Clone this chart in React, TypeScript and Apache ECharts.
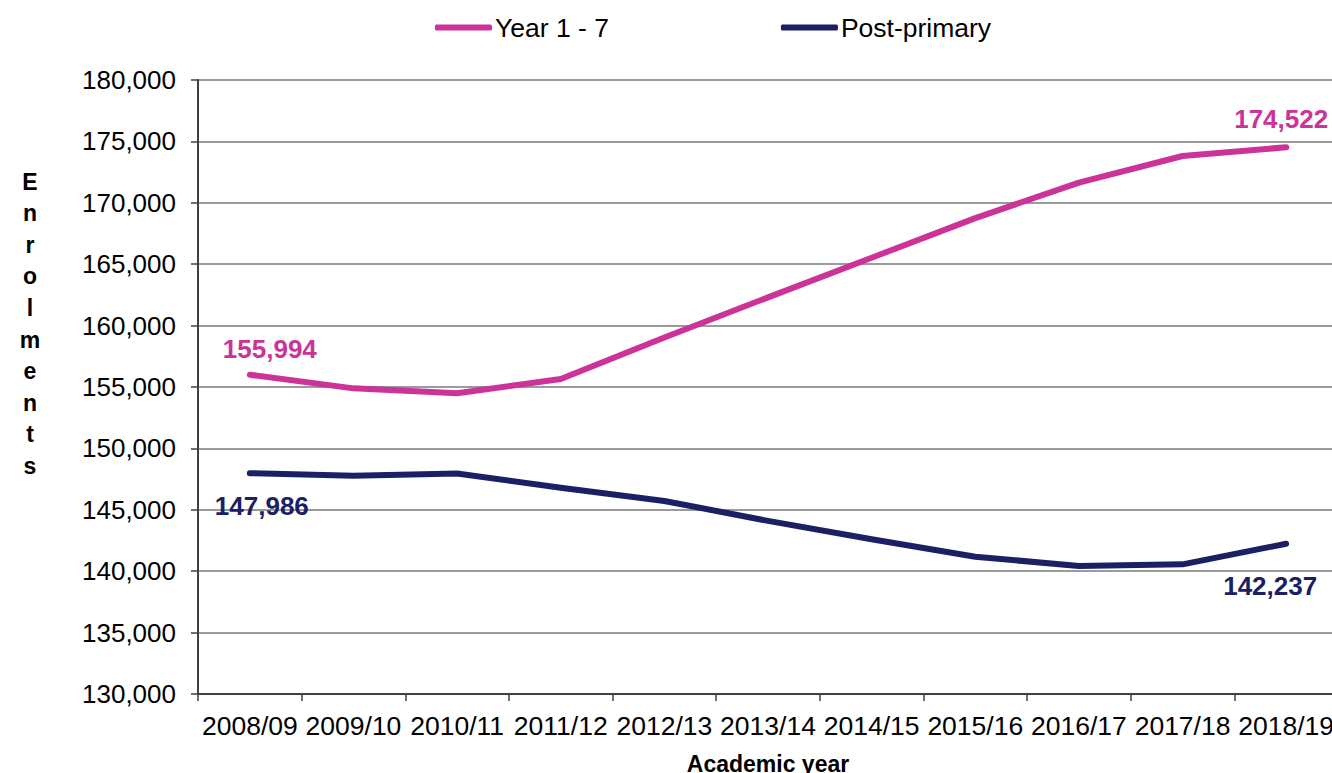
import React, { useEffect, useRef } from "react";
import * as echarts from "echarts";

const categories = [
  "2008/09", "2009/10", "2010/11", "2011/12", "2012/13", "2013/14",
  "2014/15", "2015/16", "2016/17", "2017/18", "2018/19",
];
const year1to7 = [155994, 154890, 154490, 155650, 159030, 162300, 165530, 168750, 171640, 173810, 174522];
const postPrimary = [147986, 147780, 147950, 146800, 145720, 144100, 142600, 141180, 140420, 140560, 142237];
const seriesNames = ["Year 1 - 7", "Post-primary"];
const yTicks = { min: 130000, max: 180000, interval: 5000 };

const PINK = "#CC3399";
const NAVY = "#1A2063";
const FONT = "'Liberation Sans', Arial, sans-serif";

function fmt(v: number) {
  return v.toLocaleString("en-US");
}

function buildData(values: number[], first: any, last: any, color: string) {
  return values.map((v, i) => {
    if (i === 0 || i === values.length - 1) {
      const cfg = i === 0 ? first : last;
      return {
        value: v,
        label: {
          show: true,
          position: cfg.position,
          offset: cfg.offset,
          formatter: (p: any) => fmt(p.value),
          color,
          fontFamily: FONT,
          fontWeight: "bold",
          fontSize: 26,
        },
      };
    }
    return v;
  });
}

export default function App() {
  const ref = useRef<HTMLDivElement>(null);
  useEffect(() => {
    if (!ref.current) return;
    const chart = echarts.init(ref.current, undefined, { renderer: "svg" });
    chart.setOption({
      animation: false,
      backgroundColor: "#ffffff",
      textStyle: { fontFamily: FONT },
      legend: {
        left: 435,
        top: 14,
        padding: 0,
        itemGap: 172,
        itemWidth: 57,
        itemHeight: 6,
        icon: "roundRect",
        textStyle: { fontFamily: FONT, fontSize: 26.5, color: "#000", padding: [0, 0, 0, -2] },
        data: [
          { name: seriesNames[0], itemStyle: { color: PINK, opacity: 1 } },
          { name: seriesNames[1], itemStyle: { color: NAVY, opacity: 1 } },
        ],
      },
      grid: { left: 198, top: 80, width: 1140, height: 614, containLabel: false, outerBoundsMode: "none" },
      xAxis: {
        type: "category",
        data: categories,
        boundaryGap: true,
        name: "Academic year",
        nameLocation: "middle",
        nameGap: 58,
        nameTextStyle: { fontFamily: FONT, fontSize: 23, fontWeight: "bold", color: "#000" },
        axisLine: { show: true, lineStyle: { color: "#404040", width: 2 } },
        axisTick: { show: true, length: 7, interval: 0, lineStyle: { color: "#404040", width: 1.5 } },
        axisLabel: { interval: 0, margin: 18, fontFamily: FONT, fontSize: 26.5, color: "#000" },
        splitLine: { show: false },
      },
      yAxis: {
        type: "value",
        min: yTicks.min,
        max: yTicks.max,
        interval: yTicks.interval,
        name: "E\nn\nr\no\nl\nm\ne\nn\nt\ns\n \n \n \n ",
        nameLocation: "middle",
        nameRotate: 0,
        nameGap: 168,
        nameTextStyle: {
          fontFamily: FONT,
          fontSize: 23,
          fontWeight: "bold",
          color: "#000",
          lineHeight: 31.6,
          align: "center",
        },
        axisLine: { show: true, lineStyle: { color: "#404040", width: 2 } },
        axisTick: { show: true, length: 7, lineStyle: { color: "#404040", width: 1.5 } },
        axisLabel: {
          margin: 22,
          fontFamily: FONT,
          fontSize: 26,
          color: "#000",
          formatter: (v: number) => fmt(v),
        },
        splitLine: { show: true, lineStyle: { color: "#7a7a7a", width: 1.5 } },
      },
      series: [
        {
          name: seriesNames[0],
          type: "line",
          symbol: "circle",
          symbolSize: 2,
          showSymbol: true,
          itemStyle: { color: PINK },
          color: PINK,
          lineStyle: { color: PINK, width: 6, cap: "round", join: "round" },
          data: buildData(
            year1to7,
            { position: "top", offset: [20, -7] },
            { position: "top", offset: [-5, -9] },
            PINK
          ),
        },
        {
          name: seriesNames[1],
          type: "line",
          symbol: "circle",
          symbolSize: 2,
          showSymbol: true,
          itemStyle: { color: NAVY },
          color: NAVY,
          lineStyle: { color: NAVY, width: 6, cap: "round", join: "round" },
          data: buildData(
            postPrimary,
            { position: "bottom", offset: [12, 14] },
            { position: "bottom", offset: [-16, 23] },
            NAVY
          ),
        },
      ],
    });
    return () => chart.dispose();
  }, []);
  return (
    <div style={{ position: "fixed", left: 0, top: 0, width: "100vw", height: "100vh", overflow: "hidden", background: "#fff" }}>
      <div ref={ref} style={{ width: 1350, height: 773 }} />
    </div>
  );
}
